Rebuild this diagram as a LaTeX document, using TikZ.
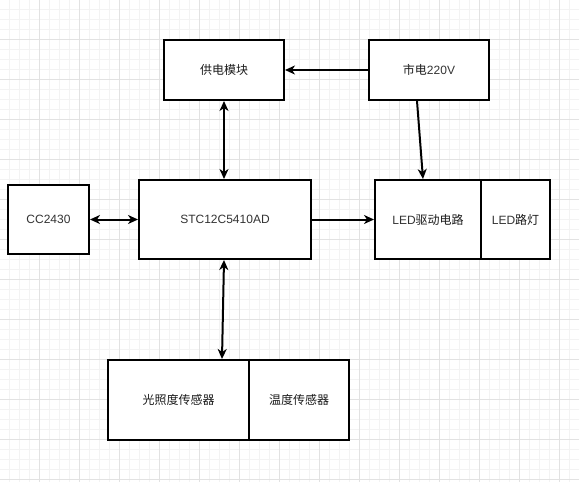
\documentclass[tikz,border=0pt]{standalone}
\usepackage{fontspec}
\setmainfont{Liberation Sans}
\newfontfamily\cjk{Noto Sans CJK SC}
\usetikzlibrary{arrows.meta}
\definecolor{gridminor}{HTML}{F3F3F3}
\definecolor{gridmajor}{HTML}{E2E2E2}
\definecolor{txt}{HTML}{1A1A1A}
\definecolor{lat}{HTML}{333333}
\begin{document}
\begin{tikzpicture}[x=1pt,y=-1pt,
  blk/.style={draw=black,line width=2pt,fill=white,inner sep=0pt,text=txt,font=\fontsize{12}{14}\selectfont},
  conn/.style={line width=2pt,-{Stealth[length=10pt,width=9pt,inset=3pt]}},
  bconn/.style={line width=2pt,{Stealth[length=10pt,width=9pt,inset=3pt]}-{Stealth[length=10pt,width=9pt,inset=3pt]}}]
\useasboundingbox (0,0) rectangle (579,482);
\fill[white] (0,0) rectangle (579,482);
\foreach \i in {1,...,57} {\draw[gridminor,line width=0.8pt] (\i*10-0.5,0) -- (\i*10-0.5,482);}
\foreach \i in {1,...,48} {\draw[gridminor,line width=0.8pt] (0,\i*10-0.5) -- (579,\i*10-0.5);}
\foreach \i in {1,...,14} {\draw[gridmajor,line width=0.8pt] (\i*40-0.5,0) -- (\i*40-0.5,482);}
\foreach \i in {1,...,12} {\draw[gridmajor,line width=0.8pt] (0,\i*40-0.5) -- (579,\i*40-0.5);}
% boxes
\node[blk,minimum width=120pt,minimum height=60pt] (pwr) at (224,70) {\cjk 供电模块};
\node[blk,minimum width=120pt,minimum height=60pt] (mains) at (429,70) {\cjk 市电\rmfamily\color{lat}220V};
\node[blk,minimum width=81pt,minimum height=69pt,text=lat] (cc) at (48.5,219.5) {CC2430};
\node[blk,minimum width=172pt,minimum height=79pt,text=lat] (mcu) at (225,219.5) {STC12C5410AD};
\node[blk,minimum width=106pt,minimum height=79pt] (drv) at (428,219.5) {{\color{lat}LED}{\cjk 驱动电路}};
\node[blk,minimum width=69pt,minimum height=79pt] (lamp) at (515.5,219.5) {{\color{lat}LED}{\cjk 路灯}};
\node[blk,minimum width=141pt,minimum height=80pt] (light) at (178.5,400) {\cjk 光照度传感器};
\node[blk,minimum width=100pt,minimum height=80pt] (temp) at (299,400) {\cjk 温度传感器};
% connectors
\draw[conn] (mains.west) -- (pwr.east);
\draw[conn] (mains.south -| 417,0) -- (drv.north -| 423,0);
\draw[bconn] (pwr.south) -- (mcu.north -| 224,0);
\draw[bconn] (cc.east) -- (mcu.west |- cc.east);
\draw[conn] (mcu.east) -- (drv.west);
\draw[bconn] (mcu.south -| 224,0) -- (light.north -| 222,0);
\end{tikzpicture}
\end{document}
